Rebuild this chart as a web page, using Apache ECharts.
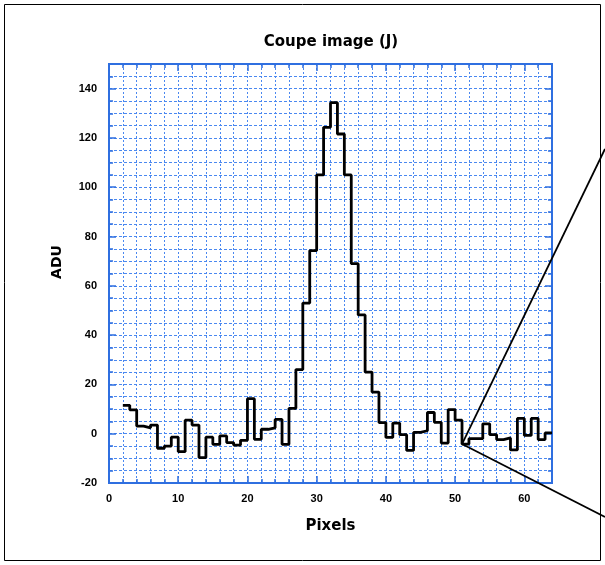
<!DOCTYPE html>
<html>
<head>
<meta charset="utf-8">
<script src="https://cdn.jsdelivr.net/npm/echarts@6/dist/echarts.min.js"></script>
<style>
html,body{margin:0;padding:0;background:#fff;}
#c{width:605px;height:565px;}
</style>
</head>
<body>
<div id="c"></div>
<script>
// Pixel positions (left edge of each step) and ADU values
const pixels = [2,3,4,5,6,7,8,9,10,11,12,13,14,15,16,17,18,19,20,21,22,23,24,25,26,27,28,29,30,31,32,33,34,35,36,37,38,39,40,41,42,43,44,45,46,47,48,49,50,51,52,53,54,55,56,57,58,59,60,61,62,63];
const adu = [11.5,9.7,3.1,2.4,3.5,-5.9,-5,-1.4,-7.3,5.5,3.5,-9.7,-1.4,-4.3,-0.9,-3.6,-4.6,-2.7,14.2,-2.3,1.8,2.4,5.8,-4.3,10.3,26,53,74.3,105,124.3,134.3,121.6,105,69,48.2,25,16.9,4.5,-1.5,4.3,-0.4,-6.8,0.5,1.2,8.6,4.6,-3.8,9.8,5.5,-4.2,-2,-2,4,-0.4,-2.4,-1.7,-6.6,6.2,-0.7,6.2,-2.4,0.3];
const xEnd = 64;
const zoomPixel = 51;
const xTickLabels = [0,10,20,30,40,50,60];
const yTickLabels = [-20,0,20,40,60,80,100,120,140];

const blue = '#2f6fe0';
const gridBlue = '#4a88f0';
const data = pixels.map((p,i)=>[p, adu[i]]);
data.push([xEnd, adu[adu.length-1]]);

const chart = echarts.init(document.getElementById('c'), null, {renderer:'canvas'});

function xAx(pos, interval, opts){
  return Object.assign({
    type:'value', position:pos, min:0, max:64, interval:interval,
    axisLine:{show:true, onZero:false, lineStyle:{color:blue, width:2}},
    axisTick:{show:true, inside:true, length: interval===10?7:4, lineStyle:{color:blue, width:1.5}},
    axisLabel:{show:false},
    splitLine:{show:false}
  }, opts||{});
}
function yAx(pos, interval, opts){
  return Object.assign({
    type:'value', position:pos, min:-20, max:150, interval:interval,
    axisLine:{show:true, onZero:false, lineStyle:{color:blue, width:2}},
    axisTick:{show:true, inside:true, length: interval===20?7:4, lineStyle:{color:blue, width:1.5}},
    axisLabel:{show:false},
    splitLine:{show:false}
  }, opts||{});
}

const labelStyle = {fontFamily:'Liberation Sans', fontWeight:'bold', fontSize:11, color:'#000'};

chart.setOption({
  animation:false,
  backgroundColor:'#fff',
  title:{text:'Coupe image (J)', left:326, top:30, textAlign:'center',
    textStyle:{fontFamily:'DejaVu Sans', fontWeight:'bold', fontSize:15, color:'#000'}},
  grid:{left:109, right:53, top:64, bottom:82, containLabel:false},
  xAxis:[
    xAx('bottom', 2, {splitLine:{show:true, lineStyle:{color:gridBlue, type:[2,2], width:1}},
      name:'Pixels', nameLocation:'middle', nameGap:36,
      nameTextStyle:{fontFamily:'DejaVu Sans', fontWeight:'bold', fontSize:15, color:'#000'}}),
    xAx('bottom', 10, {axisLabel:Object.assign({show:true, margin:10, showMaxLabel:false,
      formatter:(v)=> xTickLabels.indexOf(v)>=0 ? String(v) : ''}, labelStyle)}),
    xAx('top', 2),
    xAx('top', 10)
  ],
  yAxis:[
    yAx('left', 5, {splitLine:{show:true, lineStyle:{color:gridBlue, type:[3,2], width:1.2}}}),
    yAx('left', 20, {axisLabel:Object.assign({show:true, margin:12, showMaxLabel:false,
      formatter:(v)=> yTickLabels.indexOf(v)>=0 ? String(v) : ''}, labelStyle)}),
    yAx('right', 5),
    yAx('right', 20)
  ],
  series:[{
    type:'line', xAxisIndex:0, yAxisIndex:0, step:'end', data:data,
    showSymbol:false, symbol:'none', z:5,
    lineStyle:{color:'#000', width:2.8}
  }]
});

const pz = chart.convertToPixel({xAxisIndex:0, yAxisIndex:0}, [zoomPixel, adu[pixels.indexOf(zoomPixel)]]);
chart.setOption({
  graphic:[
    {type:'rect', shape:{x:4.5, y:4.5, width:596, height:556}, style:{fill:null, stroke:'#000', lineWidth:1}, z:100},
    {type:'text', x:57, y:262, rotation:Math.PI/2, style:{text:'ADU', fill:'#000', font:'bold 14px "DejaVu Sans"', textAlign:'center', textVerticalAlign:'middle'}, z:100},
    {type:'line', shape:{x1:pz[0], y1:pz[1], x2:605, y2:149}, style:{stroke:'#000', lineWidth:1.8}, z:100},
    {type:'line', shape:{x1:pz[0], y1:pz[1], x2:605, y2:517}, style:{stroke:'#000', lineWidth:1.8}, z:100}
  ]
});
</script>
</body>
</html>
